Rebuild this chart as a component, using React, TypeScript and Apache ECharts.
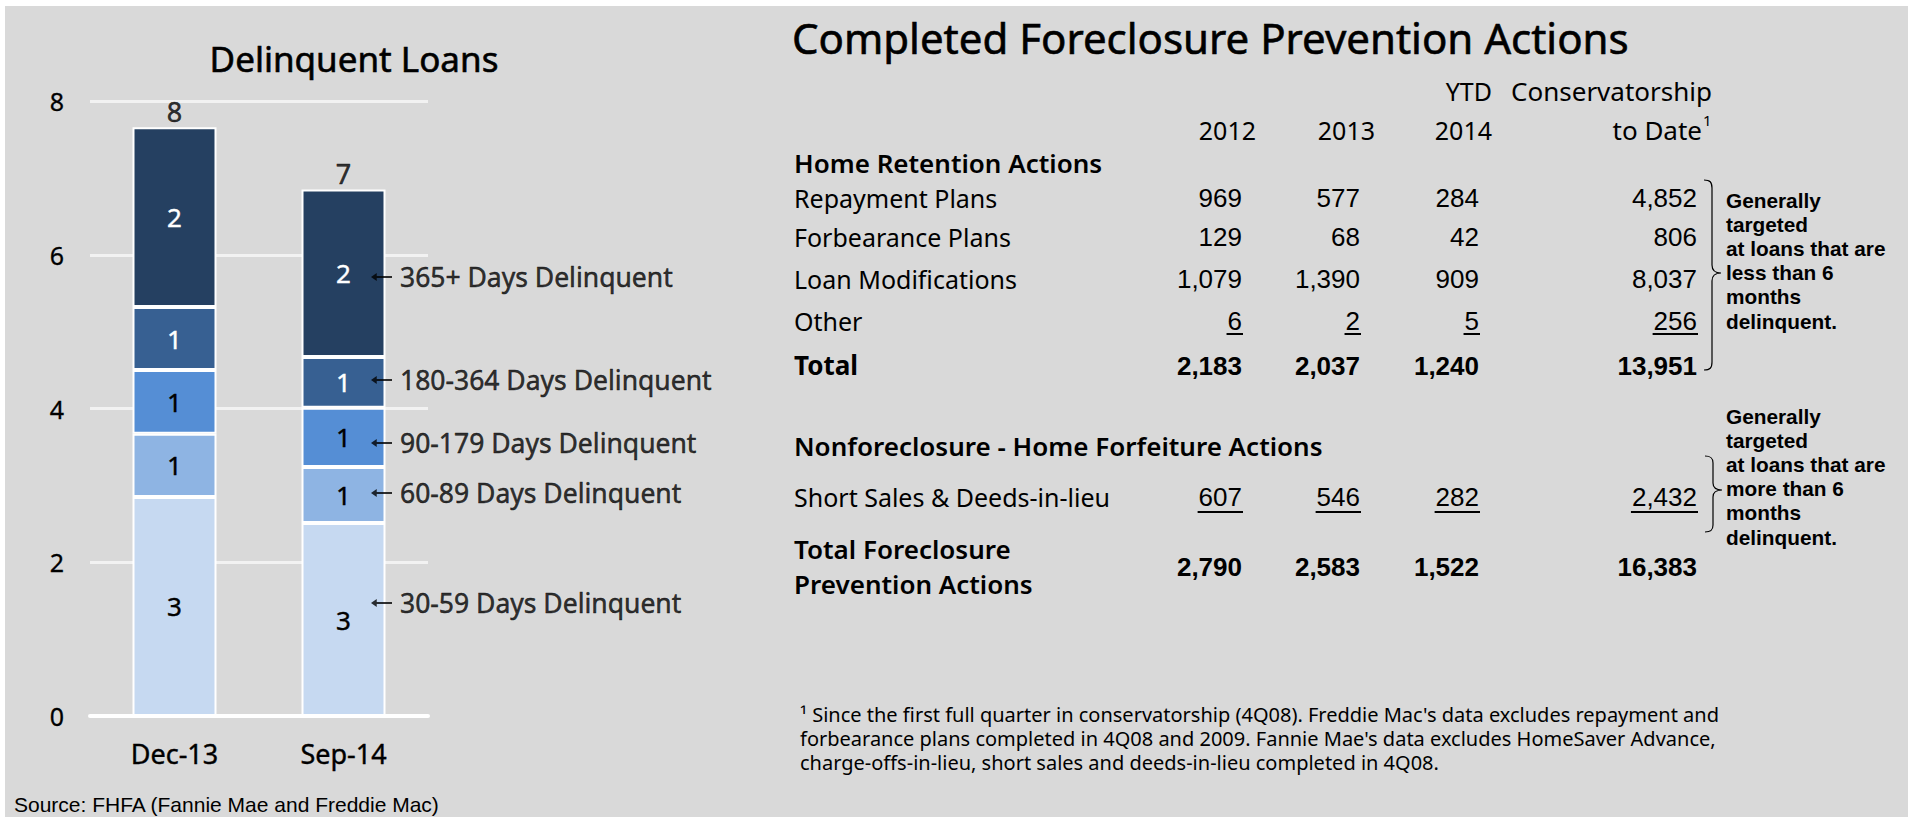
import React, { useEffect, useRef } from 'react';
import * as echarts from 'echarts';

// ---------- Left chart data ----------
const categories = ['Dec-13', 'Sep-14'];
const seriesNames = [
  '30-59 Days Delinquent',
  '60-89 Days Delinquent',
  '90-179 Days Delinquent',
  '180-364 Days Delinquent',
  '365+ Days Delinquent',
];
const days30to59 = [2.85, 2.51];
const days60to89 = [0.82, 0.73];
const days90to179 = [0.83, 0.77];
const days180to364 = [0.82, 0.66];
const days365plus = [2.34, 2.18];
const annotationValues = [1.47, 2.9, 3.55, 4.37, 5.71];
const yAxisMin = 0;
const yAxisMax = 8;
const yAxisInterval = 2;
const chartTitle = 'Delinquent Loans';
const sourceText = 'Source: FHFA (Fannie Mae and Freddie Mac)';

// ---------- Right table data ----------
const tableTitle = 'Completed Foreclosure Prevention Actions';
const yearHeaders = ['2012', '2013', '2014'];
const ytdHeader = 'YTD';
const toDateHeader = ['Conservatorship', 'to Date'];
const retentionHeader = 'Home Retention Actions';
const retentionRows = ['Repayment Plans', 'Forbearance Plans', 'Loan Modifications', 'Other'];
const retention2012 = [969, 129, 1079, 6];
const retention2013 = [577, 68, 1390, 2];
const retention2014 = [284, 42, 909, 5];
const retentionToDate = [4852, 806, 8037, 256];
const retentionTotalLabel = 'Total';
const retentionTotals = [2183, 2037, 1240, 13951];
const forfeitureHeader = 'Nonforeclosure - Home Forfeiture Actions';
const forfeitureRow = 'Short Sales & Deeds-in-lieu';
const forfeitureValues = [607, 546, 282, 2432];
const preventionTotalLabel = ['Total Foreclosure', 'Prevention Actions'];
const preventionTotals = [2790, 2583, 1522, 16383];
const noteLess = ['Generally', 'targeted', 'at loans that are', 'less than 6', 'months', 'delinquent.'];
const noteMore = ['Generally', 'targeted', 'at loans that are', 'more than 6', 'months', 'delinquent.'];
const footnoteLines = [
  "\u00b9 Since the first full quarter in conservatorship (4Q08). Freddie Mac's data excludes repayment and",
  "forbearance plans completed in 4Q08 and 2009. Fannie Mae's data excludes HomeSaver Advance,",
  'charge-offs-in-lieu, short sales and deeds-in-lieu completed in 4Q08.',
];

// ---------- Styles / layout ----------
const FONT = '"Noto Sans", sans-serif';
const NUM_FONT = '"Liberation Sans", Arial, sans-serif';
const seriesColors = ['#c6d9f1', '#8eb4e3', '#558ed5', '#376092', '#254061'];
const labelColors = ['#000', '#000', '#000', '#fff', '#fff'];
const BG = '#d9d9d9';

const colRight = [1242, 1360, 1479, 1697];
const headerRight = [1256, 1375, 1492];
const LABEL_X = 794;
const NUM_SIZE = 26;
const LABEL_SIZE = 25;
const HEAD_SIZE = 26;

const fmt = (n: number) => n.toLocaleString('en-US');

let measureCtx: CanvasRenderingContext2D | null = null;
function textWidth(text: string, font: string) {
  if (!measureCtx) measureCtx = document.createElement('canvas').getContext('2d');
  if (!measureCtx) return text.length * 14;
  measureCtx.font = font;
  return measureCtx.measureText(text).width;
}

const braceD =
  'M1704,180 C1710,180 1712,182 1712,188 L1712,265 C1712,270 1714,273 1721,273 C1714,273 1712,276 1712,281 L1712,362 C1712,368 1710,370 1704,370 ' +
  'M1705,456 C1711,456 1713,458 1713,463 L1713,483 C1713,487 1715,490 1722,490 C1715,490 1713,493 1713,497 L1713,525 C1713,530 1711,532 1705,532';

let braceRegistered = false;

function labelText(text: string, x: number, y: number, size = LABEL_SIZE, weight: any = 'normal', align = 'left', heavy = 0) {
  const style: any = { text, fontSize: size, fontFamily: FONT, fontWeight: weight, fill: '#000', align, verticalAlign: 'middle' };
  if (heavy) {
    style.stroke = '#000';
    style.lineWidth = heavy;
  }
  return { type: 'text', x, y, style };
}
function numText(n: number, x: number, y: number, bold = false) {
  return {
    type: 'text',
    x,
    y,
    style: {
      text: fmt(n),
      fontSize: NUM_SIZE,
      fontFamily: NUM_FONT,
      fontWeight: bold ? 'bold' : 'normal',
      fill: '#000',
      align: 'right',
      verticalAlign: 'middle',
    },
  };
}
function underline(n: number, xRight: number, y: number) {
  const w = textWidth(fmt(n), `${NUM_SIZE}px "Liberation Sans", Arial, sans-serif`);
  return {
    type: 'line',
    shape: { x1: xRight - w - 1, y1: y, x2: xRight + 1, y2: y },
    style: { stroke: '#000', lineWidth: 2 },
  };
}
function noteText(t: string, x: number, y: number) {
  return {
    type: 'text', x, y,
    style: { text: t, fontSize: 20.8, fontFamily: NUM_FONT, fontWeight: 'bold', fill: '#000', align: 'left', verticalAlign: 'middle' },
  };
}

export default function App() {
  const ref = useRef<HTMLDivElement>(null);

  useEffect(() => {
    if (!ref.current) return;
    if (!braceRegistered) {
      echarts.graphic.registerShape('braces', echarts.graphic.extendPath(braceD, {}));
      braceRegistered = true;
    }
    const chart = echarts.init(ref.current, undefined, { renderer: 'svg' });

    const segments = [days30to59, days60to89, days90to179, days180to364, days365plus];
    const totals = categories.map((_, ci) => segments.reduce((s, arr) => s + arr[ci], 0));

    const barSeries = segments.map((data, i) => ({
      type: 'bar',
      name: seriesNames[i],
      stack: 'total',
      data,
      barWidth: 84,
      itemStyle: { color: seriesColors[i], borderColor: '#fff', borderWidth: 2 },
      label: {
        show: true,
        position: 'inside',
        formatter: (p: any) => String(Math.round(p.value)),
        color: labelColors[i],
        textBorderColor: labelColors[i],
        textBorderWidth: 0.4,
        fontSize: 26,
        fontFamily: FONT,
      },
      emphasis: { disabled: true },
    }));

    const g: any[] = [];
    // white page margins
    g.push({ type: 'rect', shape: { x: 0, y: 0, width: 1908, height: 6 }, style: { fill: '#fff' } });
    g.push({ type: 'rect', shape: { x: 0, y: 0, width: 5, height: 817 }, style: { fill: '#fff' } });
    // titles
    g.push({
      type: 'text', x: 354, y: 58,
      style: { text: chartTitle, fontSize: 35, fontFamily: FONT, fill: '#000', stroke: '#000', lineWidth: 0.6, align: 'center', verticalAlign: 'middle' },
    });
    g.push(labelText(tableTitle, 792, 37, 42, 'normal', 'left', 0.6));
    // headers
    g.push(labelText(ytdHeader, headerRight[2], 91, LABEL_SIZE, 'normal', 'right'));
    g.push(labelText(toDateHeader[0], 1712, 91, 26, 'normal', 'right'));
    yearHeaders.forEach((h, i) => g.push(labelText(h, headerRight[i], 130, LABEL_SIZE, 'normal', 'right')));
    g.push(labelText(toDateHeader[1], 1702, 130, 26, 'normal', 'right'));
    g.push(labelText('1', 1703, 120, 15, 'normal', 'left'));
    // Home retention
    g.push(labelText(retentionHeader, LABEL_X, 163, HEAD_SIZE, 600));
    const rowY = [198, 237, 279, 321];
    retentionRows.forEach((r, i) => {
      g.push(labelText(r, LABEL_X, rowY[i]));
      g.push(numText(retention2012[i], colRight[0], rowY[i]));
      g.push(numText(retention2013[i], colRight[1], rowY[i]));
      g.push(numText(retention2014[i], colRight[2], rowY[i]));
      g.push(numText(retentionToDate[i], colRight[3], rowY[i]));
    });
    const lastRow = retentionRows.length - 1;
    [retention2012, retention2013, retention2014, retentionToDate].forEach((arr, ci) =>
      g.push(underline(arr[lastRow], colRight[ci], 334))
    );
    g.push(labelText(retentionTotalLabel, LABEL_X, 365, HEAD_SIZE, 'bold'));
    retentionTotals.forEach((v, ci) => g.push(numText(v, colRight[ci], 366, true)));
    // Forfeiture
    g.push(labelText(forfeitureHeader, LABEL_X, 446, HEAD_SIZE, 600));
    g.push(labelText(forfeitureRow, LABEL_X, 497));
    forfeitureValues.forEach((v, ci) => {
      g.push(numText(v, colRight[ci], 497));
      g.push(underline(v, colRight[ci], 512));
    });
    g.push(labelText(preventionTotalLabel[0], LABEL_X, 549, HEAD_SIZE, 600));
    g.push(labelText(preventionTotalLabel[1], LABEL_X, 584, HEAD_SIZE, 600));
    preventionTotals.forEach((v, ci) => g.push(numText(v, colRight[ci], 567, true)));
    // braces + notes
    g.push({ type: 'braces', x: 0, y: 0, style: { fill: 'none', stroke: '#000', lineWidth: 1.2 } });
    noteLess.forEach((t, i) => g.push(noteText(t, 1726, 200 + i * 24.2)));
    noteMore.forEach((t, i) => g.push(noteText(t, 1726, 416 + i * 24.2)));
    // footnote
    footnoteLines.forEach((t, i) => g.push(labelText(t, 800, 714 + i * 24.3, 20)));
    // source
    g.push({
      type: 'text', x: 14, y: 804,
      style: { text: sourceText, fontSize: 21, fontFamily: NUM_FONT, fill: '#000', align: 'left', verticalAlign: 'middle' },
    });

    const option: any = {
      animation: false,
      backgroundColor: BG,
      textStyle: { fontFamily: FONT },
      grid: { left: 90, top: 101, width: 338, height: 615, containLabel: false },
      xAxis: {
        type: 'category',
        data: categories,
        axisLine: { show: true, lineStyle: { color: '#fff', width: 4 } },
        axisTick: { show: false },
        axisLabel: { fontSize: 27, color: '#000', textBorderColor: '#000', textBorderWidth: 0.4, margin: 24, fontFamily: FONT },
        z: 3,
      },
      yAxis: {
        type: 'value',
        min: yAxisMin,
        max: yAxisMax,
        interval: yAxisInterval,
        axisLine: { show: false },
        axisTick: { show: false },
        axisLabel: { fontSize: 25, color: '#000', textBorderColor: '#000', textBorderWidth: 0.3, margin: 26, fontFamily: FONT },
        splitLine: { lineStyle: { color: '#f2f2f2', width: 3 } },
      },
      series: [
        ...barSeries,
        {
          type: 'scatter',
          name: 'Total',
          data: totals,
          symbolSize: 1,
          itemStyle: { color: 'rgba(0,0,0,0)' },
          label: {
            show: true,
            position: 'top',
            distance: 2,
            formatter: (p: any) => String(Math.round(p.value)),
            color: '#000',
            textBorderColor: '#000',
            textBorderWidth: 0.5,
            fontSize: 27,
            fontFamily: FONT,
          },
          z: 5,
        },
        {
          type: 'scatter',
          name: 'Annotations',
          data: annotationValues.map((v, i) => ({ value: [1, v], name: seriesNames[i] })),
          symbol: 'path://M0,4L6,0.3L6,3.1L22,3.1L22,4.9L6,4.9L6,7.7Z',
          symbolSize: [21, 8],
          symbolOffset: [38, 0],
          itemStyle: { color: '#000' },
          label: {
            show: true,
            position: 'right',
            distance: 8,
            formatter: '{b}',
            color: '#000',
            textBorderColor: '#000',
            textBorderWidth: 0.5,
            fontSize: 26.5,
            fontFamily: FONT,
          },
          z: 5,
        },
      ],
      graphic: { elements: g },
    };
    chart.setOption(option);
    return () => chart.dispose();
  }, []);

  return <div ref={ref} style={{ position: 'absolute', left: 0, top: 0, width: 1908, height: 817 }} />;
}
